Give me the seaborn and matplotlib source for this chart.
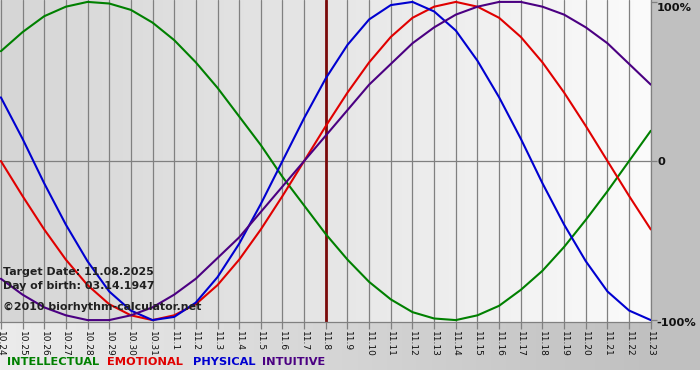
import numpy as np
import pandas as pd
import matplotlib
matplotlib.use("Agg")
import matplotlib.pyplot as plt
import seaborn as sns
from matplotlib.colors import LinearSegmentedColormap

# ---- data ----
dates = ["10.24", "10.25", "10.26", "10.27", "10.28", "10.29", "10.30", "10.31",
         "11.1", "11.2", "11.3", "11.4", "11.5", "11.6", "11.7", "11.8", "11.9",
         "11.10", "11.11", "11.12", "11.13", "11.14", "11.15", "11.16", "11.17",
         "11.18", "11.19", "11.20", "11.21", "11.22", "11.23"]
intellectual = [0.69, 0.81, 0.91, 0.97, 1.00, 0.99, 0.95, 0.87, 0.76, 0.62, 0.46,
                0.28, 0.10, -0.10, -0.28, -0.46, -0.62, -0.76, -0.87, -0.95, -0.99,
                -1.00, -0.97, -0.91, -0.81, -0.69, -0.54, -0.37, -0.19, 0.00, 0.19]
emotional = [0.00, -0.22, -0.43, -0.62, -0.78, -0.90, -0.97, -1.00, -0.97, -0.90,
             -0.78, -0.62, -0.43, -0.22, 0.00, 0.22, 0.43, 0.62, 0.78, 0.90, 0.97,
             1.00, 0.97, 0.90, 0.78, 0.62, 0.43, 0.22, 0.00, -0.22, -0.43]
physical = [0.40, 0.14, -0.14, -0.40, -0.63, -0.82, -0.94, -1.00, -0.98, -0.89,
            -0.73, -0.52, -0.27, 0.00, 0.27, 0.52, 0.73, 0.89, 0.98, 1.00, 0.94,
            0.82, 0.63, 0.40, 0.14, -0.14, -0.40, -0.63, -0.82, -0.94, -1.00]
intuitive = [-0.74, -0.84, -0.92, -0.97, -1.00, -1.00, -0.97, -0.92, -0.84, -0.74,
             -0.61, -0.48, -0.32, -0.16, 0.00, 0.16, 0.32, 0.48, 0.61, 0.74, 0.84,
             0.92, 0.97, 1.00, 1.00, 0.97, 0.92, 0.84, 0.74, 0.61, 0.48]
series_names = ["INTELLECTUAL", "EMOTIONAL", "PHYSICAL", "INTUITIVE"]
series_colors = ["#008000", "#e00000", "#0000d0", "#4b0082"]
target_date = "11.8"
y_ticks = [1, 0, -1]
y_labels = ["100%", "0", "-100%"]
info_lines = ["Target Date: 11.08.2025", "Day of birth: 03.14.1947",
              "\u00a92010 biorhythm-calculator.net"]

rows = []
for name, vals in zip(series_names, [intellectual, emotional, physical, intuitive]):
    for i, v in enumerate(vals):
        rows.append({"day": i, "value": v, "series": name})
df = pd.DataFrame(rows)

sns.set_theme(style="white")
plt.rcParams["font.family"] = ["DejaVu Sans"]

W, H = 700, 380
fig = plt.figure(figsize=(7, 3.8), dpi=100)
fig.patch.set_facecolor("white")

# background (bottom strip + right margin)
bg = fig.add_axes([0, 10 / H, 1, 370 / H], zorder=-10)
grad = np.linspace(0, 1, 256).reshape(1, -1)
cm_bg = LinearSegmentedColormap.from_list("bg", ["#ececec", "#bdbdbd"])
bg.imshow(grad, aspect="auto", cmap=cm_bg, extent=[0, 1, 0, 1])
bg.axvspan(651 / W, 1, color="#c0c0c0", lw=0)
bg.set_xlim(0, 1)
bg.set_ylim(0, 1)
bg.axis("off")

# main plot
ax = fig.add_axes([0, (H - 322) / H, 651 / W, 322 / H])
ax.set_facecolor("none")
n = len(dates)
x0, x1 = -0.04, n - 1 + 0.01
y0, y1 = -1.012, 1.012
cm_pl = LinearSegmentedColormap.from_list("pl", ["#d6d6d6", "#e6e6e6", "#fbfbfb"])
ax.imshow(grad, aspect="auto", cmap=cm_pl, extent=[x0, x1, y0, y1], zorder=0)

for i in range(n):
    ax.axvline(i, color="#808080", lw=0.9, zorder=1)
ax.axhline(0, color="#808080", lw=0.9, zorder=1)
ti = dates.index(target_date)
ax.axvline(ti, color="#7a0a0a", lw=2.0, zorder=1.5)

sns.lineplot(data=df, x="day", y="value", hue="series", hue_order=series_names,
             palette=series_colors, estimator=None, sort=False, lw=1.5,
             legend=False, ax=ax, zorder=3)

ax.set_xlim(x0, x1)
ax.set_ylim(y0, y1)
ax.set_xlabel("")
ax.set_ylabel("")
ax.set_xticks(range(n))
ax.set_xticklabels(dates, rotation=270, fontsize=6.5, color="#111111")
ax.tick_params(axis="x", bottom=True, length=5, width=0.9, color="#808080",
               pad=1.5)
ax.yaxis.tick_right()
ax.set_yticks(y_ticks)
ax.set_yticklabels([])
ax.tick_params(axis="y", right=True, left=False, length=4, width=0.9,
               color="#808080", pad=2)
for s in ["left", "top"]:
    ax.spines[s].set_visible(False)
for s in ["right", "bottom"]:
    ax.spines[s].set_color("#808080")
    ax.spines[s].set_linewidth(0.9)

# right axis labels
for lab, yp, xp in zip(y_labels, [8, 162, 323], [657, 657, 656]):
    fig.text(xp / W, 1 - yp / H, lab, fontsize=8.2, fontweight="bold",
             color="#111111", va="center", ha="left")

# info text
for txt, yp in zip(info_lines, [272, 286, 307]):
    fig.text(3 / W, 1 - yp / H, txt, fontsize=7.9, fontweight="bold",
             color="#202020", va="center", ha="left", zorder=10)

# legend text
for name, col, xp in zip(series_names, series_colors, [7, 107, 193, 262]):
    fig.text(xp / W, 1 - 362 / H, name, fontsize=8.2, fontweight="bold",
             color=col, va="center", ha="left")

fig.savefig("out.png", dpi=100)
